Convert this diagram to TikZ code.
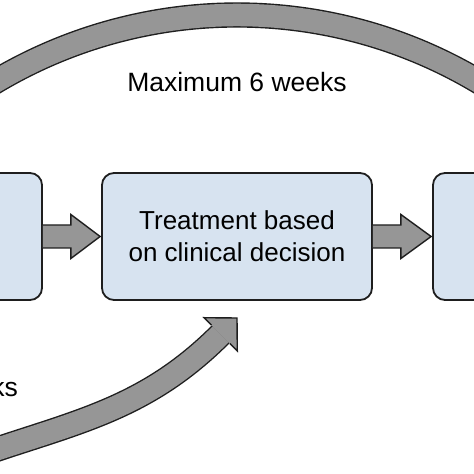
\documentclass[tikz,border=0pt]{standalone}
\usepackage{fontspec}
\setmainfont{Liberation Sans}
\usetikzlibrary{calc}
\definecolor{boxblue}{RGB}{215,227,240}
\definecolor{arrowgrey}{RGB}{150,150,150}
\definecolor{edge}{RGB}{30,30,30}
\begin{document}
\begin{tikzpicture}[x=1pt,y=1pt,
  box/.style={draw=edge, line width=1.8pt, fill=boxblue, rounded corners=12pt,
    minimum width=270pt, minimum height=127pt, inner sep=0pt, align=center,
    font=\fontsize{26}{32}\selectfont},
  blockarrow/.style={draw=edge, line width=1.4pt, fill=arrowgrey, line join=miter},
  bandarrow/.style={draw=edge, line width=1.4pt, double=arrowgrey, double distance=22.5pt},
  txt/.style={font=\fontsize{26.5}{32}\selectfont, inner sep=0pt}]
\useasboundingbox (0,0) rectangle (474,474);
\clip (0,0) rectangle (474,474);
\node[box] (lbox) at (-93,237.5){};
\node[box] (treat) at (237,237.5){Treatment based\\on clinical decision};
\node[box] (rbox) at (568,237.5){};
\draw[blockarrow] ($(lbox.east)+(0,11.5)$) -- ++(28,0) -- ++(0,10.5) -- ($(treat.west)+(-1,0)$)
  -- ($(lbox.east)+(28,-22)$) -- ++(0,10.5) -- ($(lbox.east)+(0,-11.5)$);
\draw[blockarrow] ($(treat.east)+(0,11.5)$) -- ++(28,0) -- ++(0,10.5) -- ($(rbox.west)+(-1,0)$)
  -- ($(treat.east)+(28,-22)$) -- ++(0,10.5) -- ($(treat.east)+(0,-11.5)$);
% top band
\coordinate (arcc) at (237,-13);
\draw[bandarrow] ($(arcc)+(140:472)$) arc[start angle=140, end angle=40, radius=472];
\node[txt, anchor=base] (maxtop) at (237,382){Maximum 6 weeks};
% bottom band
\coordinate (sstart) at (-40,12);
\coordinate (hbase) at (220.7,139.7);
\coordinate (tip) at (237,156);
\draw[bandarrow] (sstart) to[out=20,in=225] (hbase);
\fill[arrowgrey] (204.1,156.3) -- (tip) -- (237.3,123.1) -- cycle;
\draw[edge, line width=1.4pt, line join=miter] (211.5,148.9) -- (204.1,156.3) -- (tip) -- (237.3,123.1) -- (229.9,130.5);
\node[txt, anchor=base east] (maxbot) at (18,77){ks};
\end{tikzpicture}
\end{document}
